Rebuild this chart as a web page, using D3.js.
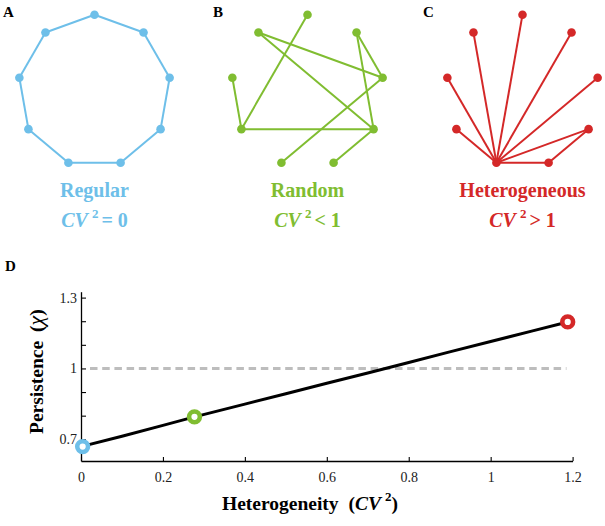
<!DOCTYPE html>
<html>
<head>
<meta charset="utf-8">
<script src="https://cdn.jsdelivr.net/npm/d3@7"></script>
<style>
body { margin: 0; background: #fff; }
text { font-family: "Liberation Serif", "Times New Roman", serif; }
</style>
</head>
<body>
<svg id="fig" width="605" height="526"></svg>
<script>

// network panels: 9 nodes on a ring, edges as index pairs
var nodeCount = 9;
var edgesRegular = [[0,1],[1,2],[2,3],[3,4],[4,5],[5,6],[6,7],[7,8],[8,0]];
var edgesRandom = [[0,6],[8,2],[8,3],[1,3],[1,2],[7,6],[6,3],[5,2],[4,3]];
var edgesHetero = [[5,0],[5,1],[5,2],[5,3],[5,4],[5,6],[5,7],[5,8],[3,4]];

var panelNames = ['Regular', 'Random', 'Heterogeneous'];
var panelRel = ['= 0', '< 1', '> 1'];
var panelLetters = ['A', 'B', 'C'];
var panelColors = ['#6ebfe9', '#80bd31', '#d42828'];

// panel D : persistence vs heterogeneity
var cvValues = [0, 0.1, 0.2, 0.277, 0.4, 0.5, 0.6, 0.7, 0.8, 0.9, 1.0, 1.1, 1.188];
var chiValues = [0.669, 0.713, 0.759, 0.795, 0.849, 0.893, 0.937, 0.981, 1.025, 1.070, 1.114, 1.158, 1.197];
var markCv = [0.004, 0.277, 1.188];
var markChi = [0.669, 0.795, 1.197];
var xTicks = [0, 0.2, 0.4, 0.6, 0.8, 1, 1.2];
var yTicks = [0.7, 0.8, 0.9, 1.0, 1.1, 1.2, 1.3];
var yLabels = [0.7, 1, 1.3];

var svg = d3.select('#fig');

/* ---- panels A, B, C ---- */
var centers = [94.5, 307.5, 522.5];
var edgeSets = [edgesRegular, edgesRandom, edgesHetero];
var ringR = 76.3, ringCy = 91;

for (var p = 0; p < 3; p++) {
	var cx = centers[p];
	var col = panelColors[p];
	var nodes = d3.range(nodeCount).map(function (i) {
		var a = (-90 + i * 360 / nodeCount) * Math.PI / 180;
		return [cx + ringR * Math.cos(a), ringCy + ringR * Math.sin(a)];
	});
	var g = svg.append('g');
	g.selectAll('line').data(edgeSets[p]).enter().append('line')
		.attr('x1', function (d) { return nodes[d[0]][0]; })
		.attr('y1', function (d) { return nodes[d[0]][1]; })
		.attr('x2', function (d) { return nodes[d[1]][0]; })
		.attr('y2', function (d) { return nodes[d[1]][1]; })
		.attr('stroke', col)
		.attr('stroke-width', 2);
	g.selectAll('circle').data(nodes).enter().append('circle')
		.attr('cx', function (d) { return d[0]; })
		.attr('cy', function (d) { return d[1]; })
		.attr('r', 4.3)
		.attr('fill', col);

	svg.append('text')
		.attr('x', [3, 213, 423][p]).attr('y', 17)
		.attr('font-size', 15).attr('font-weight', 'bold')
		.text(panelLetters[p]);

	svg.append('text')
		.attr('x', cx).attr('y', 197)
		.attr('text-anchor', 'middle')
		.attr('font-size', 20).attr('font-weight', 'bold')
		.attr('fill', col)
		.text(panelNames[p]);

	var t = svg.append('text')
		.attr('x', cx).attr('y', 227)
		.attr('text-anchor', 'middle')
		.attr('font-size', 20).attr('font-weight', 'bold')
		.attr('fill', col);
	t.append('tspan').attr('font-style', 'italic').text('CV');
	t.append('tspan').attr('font-size', 13).attr('dx', 4).attr('dy', -9).text('2');
	t.append('tspan').attr('dx', 3).attr('dy', 9).text(panelRel[p]);
}

/* ---- panel D ---- */
var x = d3.scaleLinear().domain([0, 1.2]).range([81, 572.6]);
var y = d3.scaleLinear().domain([0.608, 1.325]).range([461, 291.7]);

svg.append('text').attr('x', 5).attr('y', 271)
	.attr('font-size', 15).attr('font-weight', 'bold').text('D');

// dashed reference at chi = 1
svg.append('line')
	.attr('x1', x(0.022)).attr('x2', x(1.185))
	.attr('y1', y(1)).attr('y2', y(1))
	.attr('stroke', '#bdbdbd').attr('stroke-width', 3)
	.attr('stroke-dasharray', '7.5,4.7');

var xAxis = d3.axisBottom(x).tickValues(xTicks).tickSize(-4).tickPadding(11)
	.tickSizeOuter(0)
	.tickFormat(function (d) { return String(+d.toFixed(1)); });
var gx = svg.append('g').attr('transform', 'translate(0,461)').call(xAxis);

var yAxis = d3.axisLeft(y).tickValues(yTicks).tickSize(-5).tickPadding(4)
	.tickSizeOuter(0)
	.tickFormat(function (d) {
		var v = +d.toFixed(1);
		return yLabels.indexOf(v) >= 0 ? String(v) : '';
	});
var gy = svg.append('g').attr('transform', 'translate(81,0)').call(yAxis);

[gx, gy].forEach(function (ax) {
	ax.select('.domain').attr('stroke', '#000').attr('stroke-width', 1.3);
	ax.selectAll('.tick line').attr('stroke', '#000').attr('stroke-width', 1.1);
	ax.selectAll('.tick text')
		.attr('font-family', '"Liberation Serif", serif')
		.attr('font-size', 14).attr('fill', '#222');
});

var lineData = cvValues.map(function (v, i) { return [v, chiValues[i]]; });
svg.append('path')
	.datum(lineData)
	.attr('d', d3.line().x(function (d) { return x(d[0]); }).y(function (d) { return y(d[1]); }))
	.attr('fill', 'none')
	.attr('stroke', '#000')
	.attr('stroke-width', 3);

svg.selectAll('circle.mark').data(markCv).enter().append('circle')
	.attr('class', 'mark')
	.attr('cx', function (d) { return x(d); })
	.attr('cy', function (d, i) { return y(markChi[i]); })
	.attr('r', 5.4)
	.attr('fill', '#fff')
	.attr('stroke', function (d, i) { return panelColors[i]; })
	.attr('stroke-width', 4.6);

// axis titles
var xt = svg.append('text')
	.attr('x', 222).attr('y', 510)
	.attr('font-size', 19.5).attr('font-weight', 'bold');
xt.append('tspan').text('Heterogeneity');
xt.append('tspan').attr('dx', 10).text('(');
xt.append('tspan').attr('font-style', 'italic').text('CV');
xt.append('tspan').attr('font-size', 13).attr('dx', 4).attr('dy', -9).text('2');
xt.append('tspan').attr('dy', 9).text(')');

var yt = svg.append('text')
	.attr('transform', 'translate(43,434) rotate(-90)')
	.attr('font-size', 19.5).attr('font-weight', 'bold');
yt.append('tspan').text('Persistence');
yt.append('tspan').attr('dx', 9).text('(');
yt.append('tspan').attr('font-style', 'italic').attr('font-weight', 'normal')
	.attr('font-size', 22).text('χ');
yt.append('tspan').text(')');

</script>
</body>
</html>
